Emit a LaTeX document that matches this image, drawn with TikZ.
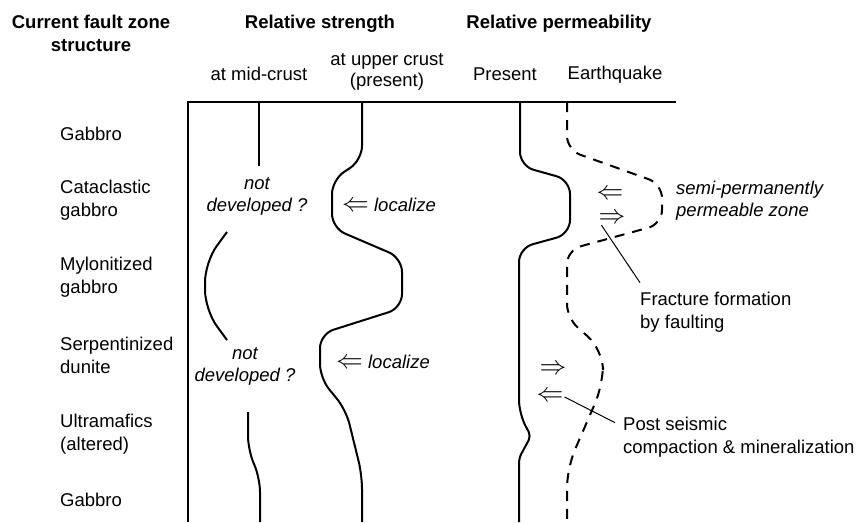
\documentclass[tikz,border=0pt]{standalone}
\usepackage{fontspec}
\setmainfont{Liberation Sans}
\usetikzlibrary{calc}
\newcommand\lfarrow{\scalebox{1.55}{$\Leftarrow$}}
\newcommand\rtarrow{\scalebox{1.55}{$\Rightarrow$}}

\begin{document}
\begin{tikzpicture}[x=1pt,y=-1pt,
      every node/.style={font=\fontsize{18.5}{23}\selectfont,inner sep=1pt},
      hdr/.style={font=\fontsize{18.5}{23}\selectfont\bfseries,align=center},
      col/.style={align=center},
      unit/.style={align=left,anchor=west},
      note/.style={font=\fontsize{18.5}{22}\selectfont\itshape,align=center},
      frame/.style={line width=1.4pt},
      prof/.style={line width=2pt,rounded corners=14pt},
      eq/.style={prof,dash pattern=on 10pt off 8pt},
      leader/.style={line width=1pt}]
    \useasboundingbox (0,0) rectangle (856,522);
    % headers
    \node[hdr] (hstruct)   at (91,33)  {Current fault zone\\structure};
    \node[hdr] (hstrength) at (320,24) {Relative strength};
    \node[hdr] (hperm)     at (559,24) {Relative permeability};
    \node[col] (cmid)   at (259,74) {at mid-crust};
    \node[col,font=\fontsize{18.5}{21}\selectfont] (cupper) at (387,72) {at upper crust\\(present)};
    \node[col] (cpres)  at (505,74) {Present};
    \node[col] (cquake) at (615,75) {Earthquake};
    % units
    \node[unit] (gabtop) at (59,134) {Gabbro};
    \node[unit] (cata)   at (59,200) {Cataclastic\\gabbro};
    \node[unit] (mylo)   at (59,277) {Mylonitized\\gabbro};
    \node[unit] (serp)   at (59,355) {Serpentinized\\dunite};
    \node[unit] (ultra)  at (59,434) {Ultramafics\\(altered)};
    \node[unit] (gabbot) at (59,500) {Gabbro};
    \draw[frame] (676,102) -- (188,102) -- (188,522);
    % strength profiles
    \node[note] (notdev1) at (257,196) {not\\developed ?};
    \node[note] (notdev2) at (245,366) {not\\developed ?};
    \node (loc1) at (389,205) {\lfarrow{} \textit{localize}};
    \node (loc2) at (383,362) {\lfarrow{} \textit{localize}};
    \draw[prof] (259,102) -- (259,166);
    \draw[prof,rounded corners=20pt] (227,232) -- (205,262) -- (205,310) -- (227,340);
    \draw[prof] (248,412) -- (248,450) -- (260,478) -- (260,522);
    \draw[prof] (362,102) -- (362,160) -- (332,180) -- (332,228) -- (402,258) -- (402,308)
      -- (320,334) -- (320,378) -- (346,410) -- (362,475) -- (362,522);
    % permeability profiles
    \draw[prof] (520,102) -- (520,166) -- (570,180) -- (570,234) -- (519,248) -- (519,414)
      [rounded corners=5pt] -- (531,436) -- (519,458) -- (519,522);
    \draw[eq] (567,102) -- (567,150) -- (662,184) -- (662,224) -- (567,250) -- (567,318)
      [rounded corners=20pt] -- (603,350) -- (603,385) -- (567,468) -- (567,522);
    \node (eqin)   at (610,195) {\lfarrow};
    \node (eqout)  at (612,219) {\rtarrow};
    \node (psopen) at (553,370) {\rtarrow};
    \node (pscomp) at (550,397) {\lfarrow};
    \node[note,align=left,anchor=west] (semi) at (675,201) {semi-permanently\\permeable zone};
    \node[unit] (frac) at (639,312) {Fracture formation\\by faulting};
    \node[unit] (post) at (622,437) {Post seismic\\compaction \& mineralization};
    \draw[leader] ($(frac.north west)+(1,-8)$) -- ($(eqout.south west)+(4,0)$);
    \draw[leader] (pscomp.east) -- ($(post.north west)+(-7,7)$);
\end{tikzpicture}
\end{document}
